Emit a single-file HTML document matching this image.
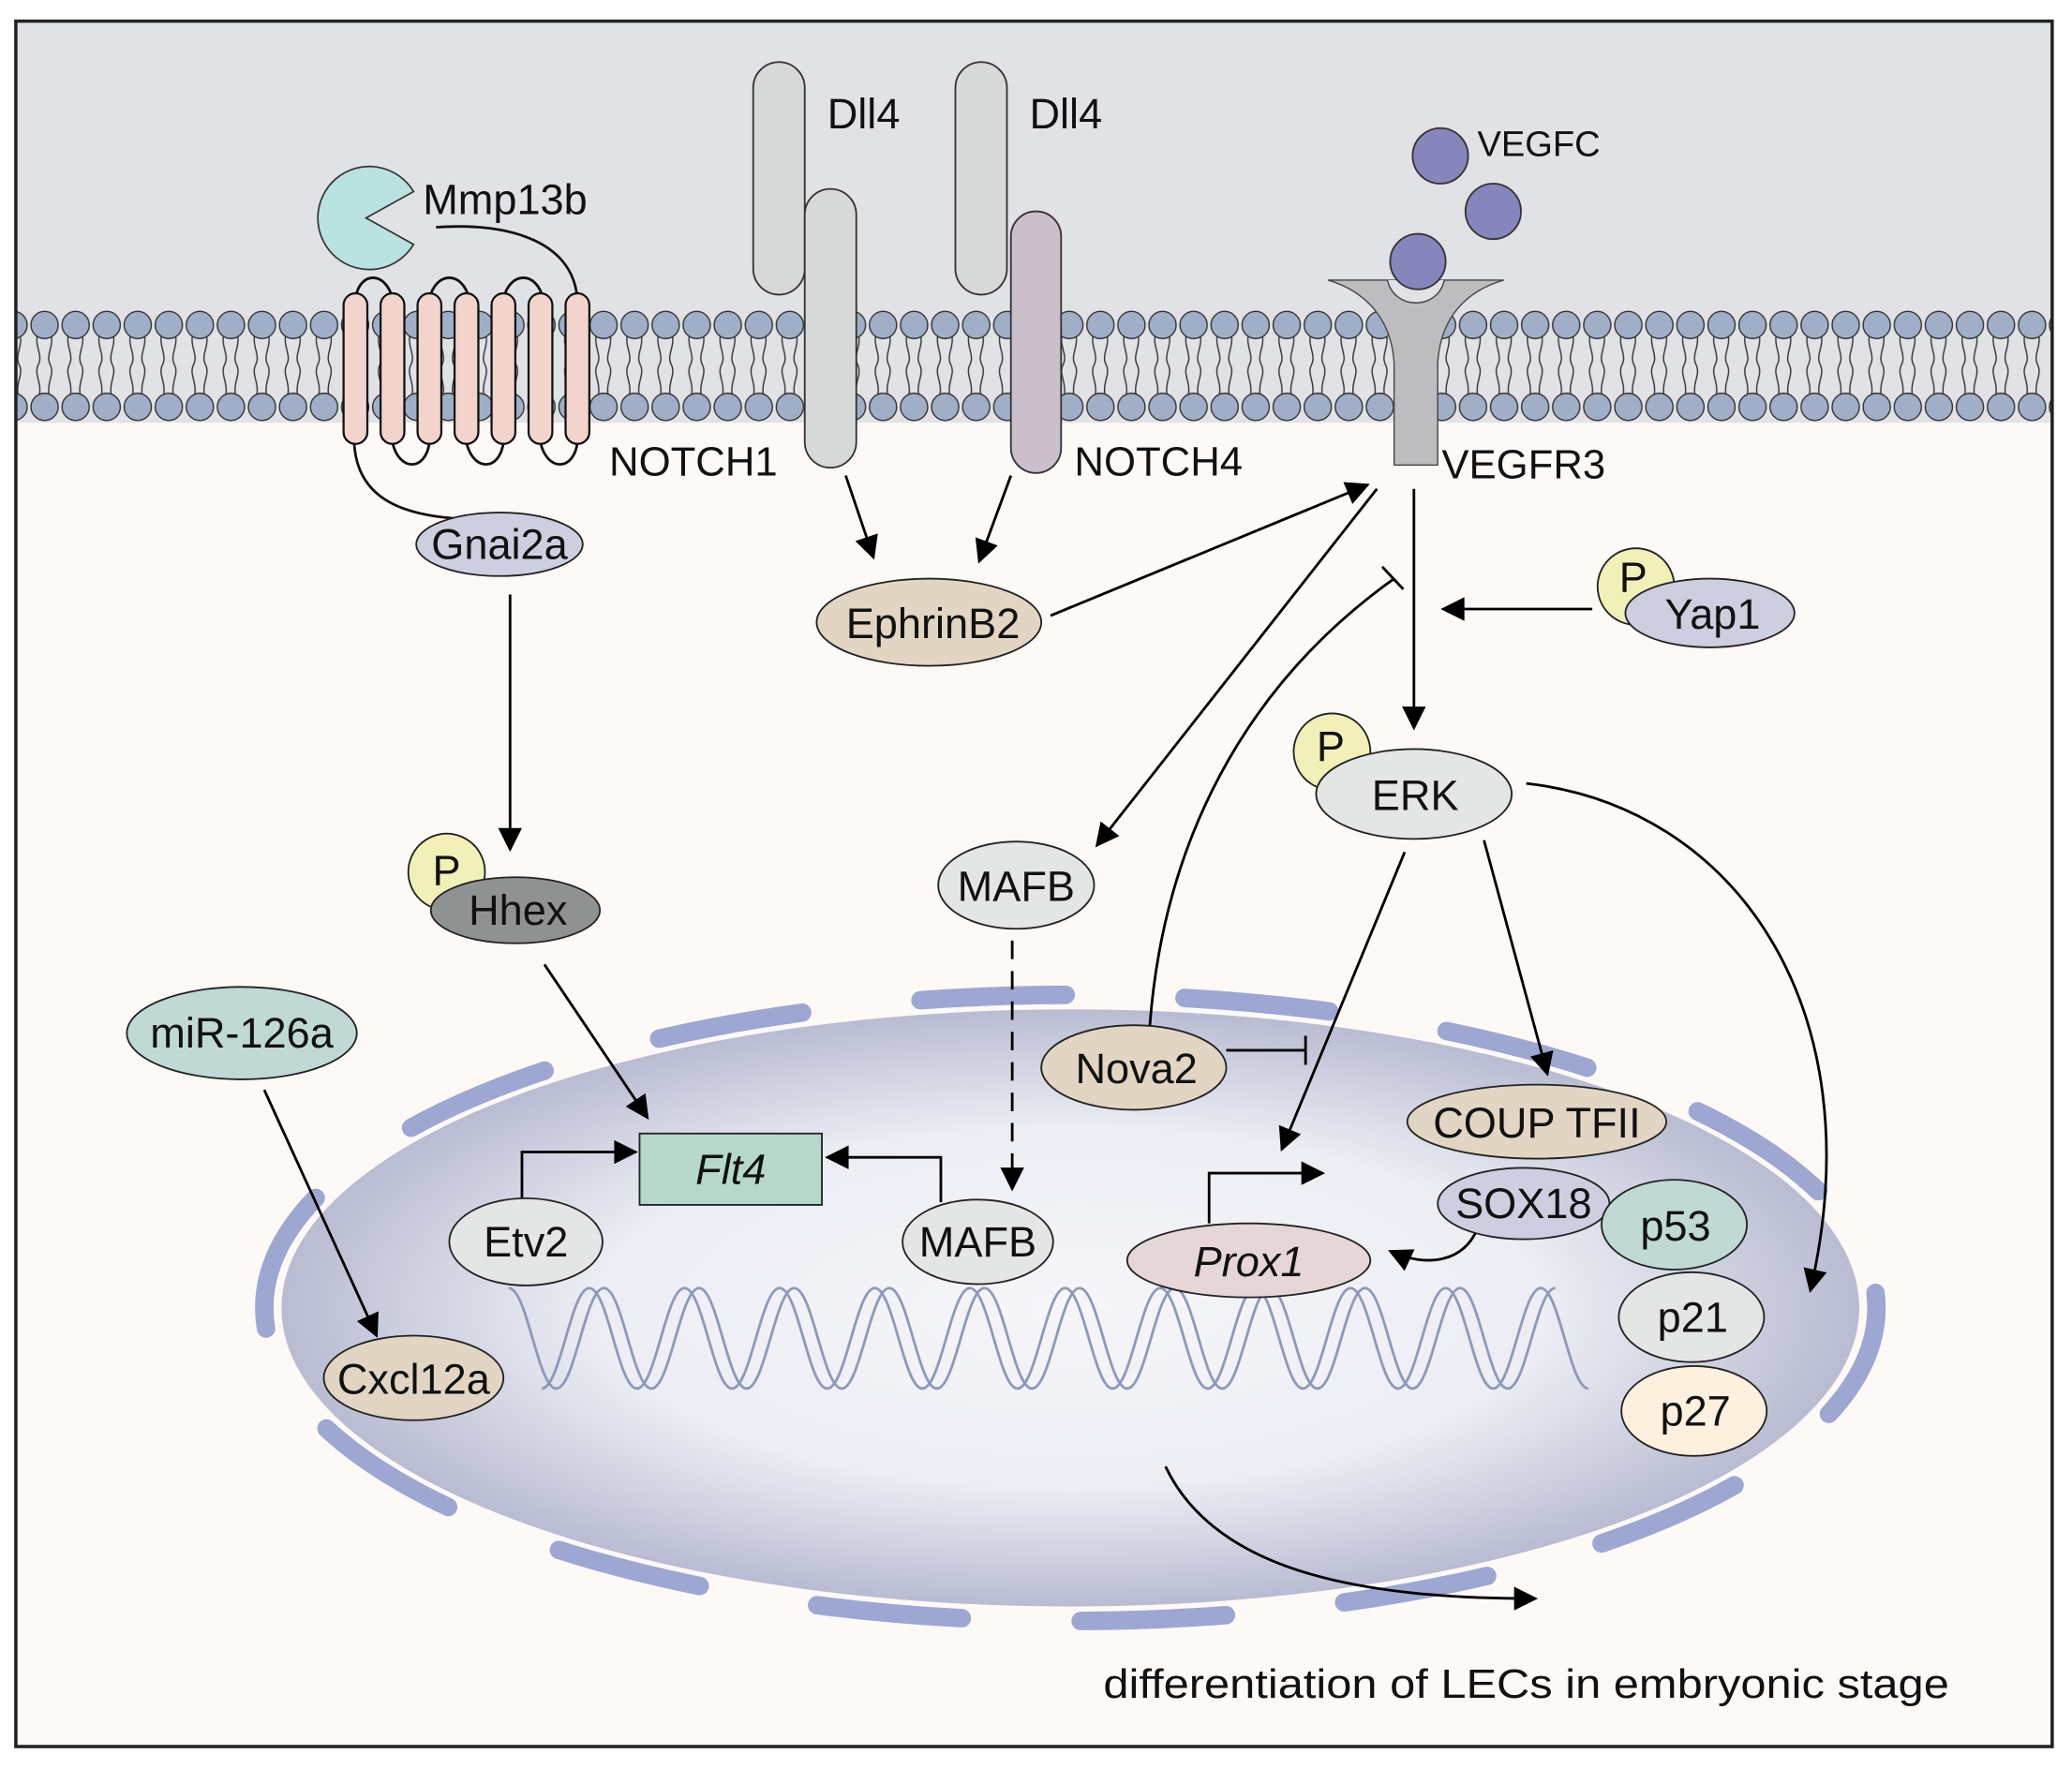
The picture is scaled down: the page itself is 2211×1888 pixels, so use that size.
<!DOCTYPE html>
<html><head><meta charset="utf-8"><style>
html,body{margin:0;padding:0;background:#fff;}
svg{display:block;}
text{font-family:"Liberation Sans",sans-serif;fill:#111;}
</style></head><body>
<svg width="2211" height="1888" viewBox="0 0 1568 1339" preserveAspectRatio="none" xmlns="http://www.w3.org/2000/svg">
<defs>
<marker id="ah" viewBox="0 0 10 10" refX="9" refY="5" markerWidth="10" markerHeight="9" markerUnits="strokeWidth" orient="auto"><path d="M0,0 L10,5 L0,10 z" fill="#000"/></marker>
<radialGradient id="nuc" cx="0.5" cy="0.5" r="0.5">
<stop offset="0" stop-color="#f6f6f9"/><stop offset="0.6" stop-color="#eceef4"/><stop offset="1" stop-color="#b9bcd2"/></radialGradient>
<pattern id="lip" x="22" y="0" width="23.5" height="1339" patternUnits="userSpaceOnUse">
<path d="M7,250 C3,262 11,268 7,276 C3,284 11,290 7,302 M16,250 C20,262 12,268 16,276 C20,284 12,290 16,302" fill="none" stroke="#333" stroke-width="1"/>
<circle cx="11.75" cy="246" r="10.3" fill="#a1aec8" stroke="#333" stroke-width="1"/>
<circle cx="11.75" cy="308" r="10.3" fill="#a1aec8" stroke="#333" stroke-width="1"/>
</pattern>
</defs>
<rect x="0" y="0" width="1568" height="1339" fill="#fff"/>
<rect x="12" y="16" width="1541" height="1306" fill="#fdf9f7"/>
<rect x="12" y="16" width="1541" height="304" fill="#e1e2e6"/>
<rect x="12" y="320" width="1541" height="2" fill="#fdf9f7"/>
<rect x="12" y="230" width="1541" height="92" fill="url(#lip)"/>
<rect x="12" y="16" width="1541" height="1306" fill="none" stroke="#222" stroke-width="2.5"/>

<!-- GPCR -->
<path d="M330,172 C390,168 435,185 437,228" fill="none" stroke="#111" stroke-width="2"/>
<path d="M268,335 C270,375 300,395 375,393" fill="none" stroke="#111" stroke-width="2"/>
<g fill="none" stroke="#111" stroke-width="2">
<path d="M269,226 C272,205 292,205 297,226"/><path d="M325,226 C330,205 350,205 355,226"/><path d="M381,226 C386,205 406,205 411,226"/>
<path d="M297,335 C302,357 322,357 325,335"/><path d="M353,335 C358,357 378,357 381,335"/><path d="M409,335 C414,357 434,357 437,335"/>
</g>
<g fill="#f3d4cc" stroke="#111" stroke-width="1.6">
<rect x="260" y="222" width="18" height="114" rx="9"/><rect x="288" y="222" width="18" height="114" rx="9"/>
<rect x="316" y="222" width="18" height="114" rx="9"/><rect x="344" y="222" width="18" height="114" rx="9"/>
<rect x="372" y="222" width="18" height="114" rx="9"/><rect x="400" y="222" width="18" height="114" rx="9"/>
<rect x="428" y="222" width="18" height="114" rx="9"/>
</g>
<path d="M313,145 A39,39 0 1 0 313,185 L277,165 Z" fill="#b9e2e0" stroke="#333" stroke-width="1.2"/>
<text x="320" y="162" font-size="32">Mmp13b</text>

<!-- Dll4 / Notch -->
<g stroke="#333" stroke-width="1.3">
<rect x="570" y="47" width="39" height="176" rx="19.5" fill="#d7d9d9"/>
<rect x="723" y="47" width="39" height="176" rx="19.5" fill="#d7d9d9"/>
<rect x="609" y="143" width="39" height="211" rx="19.5" fill="#d7d9d9"/>
<rect x="765" y="160" width="38" height="198" rx="19" fill="#cbbfcb"/>
</g>
<text x="626" y="97" font-size="32">Dll4</text>
<text x="779" y="97" font-size="32">Dll4</text>
<text x="461" y="360" font-size="31">NOTCH1</text>
<text x="813" y="360" font-size="31">NOTCH4</text>

<!-- VEGFR3 -->
<path d="M1005,212 L1138,212 C1110,220 1090,240 1088,275 L1088,352 L1055,352 L1055,275 C1053,240 1032,220 1005,212 Z" fill="#bdbdbf" stroke="#444" stroke-width="1"/>
<path d="M1050,212 C1055,235 1088,235 1093,212" fill="#e1e2e6" stroke="#444" stroke-width="1"/>
<g fill="#8686bd" stroke="#333" stroke-width="1.3">
<circle cx="1090" cy="118" r="21"/><circle cx="1130" cy="160" r="21"/><circle cx="1073" cy="198" r="21"/>
</g>
<text x="1118" y="118" font-size="27">VEGFC</text>
<text x="1091" y="362" font-size="31">VEGFR3</text>

<!-- Nucleus -->
<ellipse cx="810" cy="990" rx="597" ry="226" fill="url(#nuc)"/>
<ellipse cx="810" cy="990" rx="610" ry="237" fill="none" stroke="#98a2cf" stroke-width="14" stroke-linecap="round" stroke-dasharray="110 90" stroke-dashoffset="20" opacity="0.95"/>

<!-- DNA -->
<path d="M385,975 c14,0 22,76 36,76 s22,-76 36,-76 s22,76 36,76 s22,-76 36,-76 s22,76 36,76 s22,-76 36,-76 s22,76 36,76 s22,-76 36,-76 s22,76 36,76 s22,-76 36,-76 s22,76 36,76 s22,-76 36,-76 s22,76 36,76 s22,-76 36,-76 s22,76 36,76 s22,-76 36,-76 s22,76 36,76 s22,-76 36,-76 s22,76 36,76 s22,-76 36,-76 s22,76 36,76 s22,-76 36,-76" fill="none" stroke="#8e98b9" stroke-width="2"/>
<path d="M410,1051 c14,0 22,-76 36,-76 s22,76 36,76 s22,-76 36,-76 s22,76 36,76 s22,-76 36,-76 s22,76 36,76 s22,-76 36,-76 s22,76 36,76 s22,-76 36,-76 s22,76 36,76 s22,-76 36,-76 s22,76 36,76 s22,-76 36,-76 s22,76 36,76 s22,-76 36,-76 s22,76 36,76 s22,-76 36,-76 s22,76 36,76 s22,-76 36,-76 s22,76 36,76 s22,-76 36,-76 s22,76 36,76" fill="none" stroke="#8e98b9" stroke-width="2"/>

<!-- arrows -->
<g fill="none" stroke="#000" stroke-width="2">
<line x1="640" y1="360" x2="661" y2="422" marker-end="url(#ah)"/>
<line x1="765" y1="360" x2="741" y2="425" marker-end="url(#ah)"/>
<line x1="795" y1="466" x2="1035" y2="367" marker-end="url(#ah)"/>
<line x1="1042" y1="370" x2="830" y2="640" marker-end="url(#ah)"/>
<line x1="1070" y1="370" x2="1070" y2="551" marker-end="url(#ah)"/>
<line x1="1205" y1="461" x2="1092" y2="461" marker-end="url(#ah)"/>
<path d="M870,778 C880,640 940,520 1055,438"/>
<line x1="1046" y1="429" x2="1062" y2="446"/>
<line x1="386" y1="450" x2="386" y2="643" marker-end="url(#ah)"/>
<line x1="412" y1="730" x2="490" y2="846" marker-end="url(#ah)"/>
<line x1="200" y1="825" x2="285" y2="1011" marker-end="url(#ah)"/>
<line x1="766" y1="712" x2="766" y2="900" stroke-dasharray="14 9" marker-end="url(#ah)"/>
<line x1="1063" y1="645" x2="970" y2="870" marker-end="url(#ah)"/>
<line x1="1123" y1="636" x2="1171" y2="813" marker-end="url(#ah)"/>
<path d="M1155,593 C1310,610 1420,760 1370,977" marker-end="url(#ah)"/>
<path d="M395,910 L395,872 L481,872" marker-end="url(#ah)"/>
<path d="M712,910 L712,876 L626,876" marker-end="url(#ah)"/>
<path d="M915,926 L915,888 L1001,888" marker-end="url(#ah)"/>
<path d="M1118,930 C1108,955 1080,960 1052,947" marker-end="url(#ah)"/>
<line x1="928" y1="795" x2="988" y2="795"/><line x1="988" y1="784" x2="988" y2="806"/>
<path d="M882,1110 C920,1190 1030,1210 1162,1210" marker-end="url(#ah)"/>
</g>

<!-- nodes -->
<g stroke="#222" stroke-width="1.3">
<ellipse cx="378" cy="412" rx="63" ry="24" fill="#cdcfe0"/>
<ellipse cx="703" cy="471" rx="85" ry="33" fill="#e2d5c4"/>
<circle cx="1238" cy="444" r="29" fill="#f1f0b8"/>
<ellipse cx="1294" cy="464" rx="64" ry="26" fill="#cdcfe0"/>
<circle cx="1008" cy="569" r="29" fill="#f1f0b8"/>
<ellipse cx="1070" cy="601" rx="74" ry="34" fill="#e4e6e5"/>
<ellipse cx="769" cy="670" rx="59" ry="33" fill="#e4e6e5"/>
<circle cx="338" cy="660" r="29" fill="#f1f0b8"/>
<ellipse cx="390" cy="689" rx="64" ry="25" fill="#909291"/>
<ellipse cx="183" cy="782" rx="87" ry="35" fill="#c0d9d4"/>
<ellipse cx="313" cy="1043" rx="68" ry="32" fill="#e2d5c4"/>
<rect x="484" y="858" width="138" height="54" fill="#b6d8c8"/>
<ellipse cx="398" cy="940" rx="58" ry="33" fill="#e4e6e5"/>
<ellipse cx="740" cy="940" rx="57" ry="32" fill="#e4e6e5"/>
<ellipse cx="858" cy="808" rx="70" ry="32" fill="#e2d5c4"/>
<ellipse cx="1163" cy="849" rx="98" ry="28" fill="#e2d5c4"/>
<ellipse cx="1153" cy="911" rx="65" ry="27" fill="#cdcfe0"/>
<ellipse cx="945" cy="954" rx="92" ry="28" fill="#e6d6d8"/>
<ellipse cx="1282" cy="1068" rx="55" ry="34" fill="#fdf0de"/>
<ellipse cx="1280" cy="997" rx="55" ry="34" fill="#e4e6e5"/>
<ellipse cx="1267" cy="927" rx="55" ry="34" fill="#c0d9d4"/>
</g>
<g font-size="32" text-anchor="middle">
<text x="1236" y="448">P</text>
<text x="1296" y="476">Yap1</text>
<text x="1007" y="576">P</text>
<text x="1071" y="613">ERK</text>
<text x="769" y="682">MAFB</text>
<text x="338" y="670">P</text>
<text x="392" y="700">Hhex</text>
<text x="378" y="423">Gnai2a</text>
<text x="706" y="483">EphrinB2</text>
<text x="183" y="793">miR-126a</text>
<text x="313" y="1055">Cxcl12a</text>
<text x="553" y="896" font-style="italic">Flt4</text>
<text x="398" y="951">Etv2</text>
<text x="740" y="951">MAFB</text>
<text x="860" y="820">Nova2</text>
<text x="1163" y="861">COUP TFII</text>
<text x="1153" y="922">SOX18</text>
<text x="945" y="966" font-style="italic">Prox1</text>
<text x="1268" y="939">p53</text>
<text x="1281" y="1008">p21</text>
<text x="1283" y="1079">p27</text>
</g>
<text x="835" y="1285" font-size="31" textLength="640" lengthAdjust="spacingAndGlyphs">differentiation of LECs in embryonic stage</text>
</svg>
</body></html>
